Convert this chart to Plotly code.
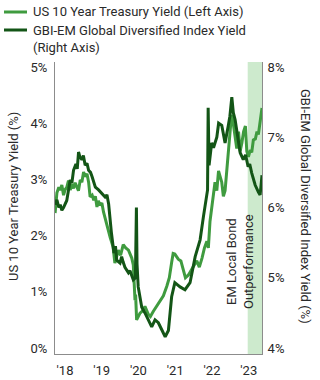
import plotly.graph_objects as go

# ---- data ----
ust_dates = ["2018-01-02","2018-01-20","2018-02-08","2018-02-22","2018-03-10","2018-03-27","2018-04-12",
             "2018-04-28","2018-05-15","2018-06-01","2018-06-18","2018-07-04","2018-07-20",
             "2018-08-06","2018-08-22","2018-09-09","2018-09-25","2018-10-12","2018-10-28","2018-11-15",
             "2018-12-01","2018-12-16","2019-01-05","2019-01-21","2019-02-06","2019-02-22",
             "2019-03-08","2019-03-25","2019-04-12","2019-04-28","2019-05-15","2019-06-01","2019-06-18",
             "2019-07-03","2019-08-01","2019-08-19","2019-09-05","2019-09-22","2019-10-15",
             "2019-11-10","2019-12-05","2020-01-01","2020-02-03","2020-02-18","2020-03-06","2020-03-12",
             "2020-03-22","2020-04-25","2020-05-20","2020-06-13","2020-07-16","2020-08-06","2020-09-03",
             "2020-10-24","2020-12-13","2021-01-16","2021-02-10","2021-03-05","2021-03-20",
             "2021-04-06","2021-05-10","2021-06-05","2021-06-30","2021-07-20","2021-08-19","2021-09-10",
             "2021-10-07","2021-11-10","2021-12-05","2022-01-01","2022-01-25",
             "2022-02-18","2022-03-05","2022-03-21","2022-04-21","2022-05-10","2022-05-28","2022-06-14",
             "2022-07-16","2022-08-01","2022-08-18","2022-09-10","2022-10-07","2022-10-21",
             "2022-11-03","2022-11-20","2022-12-12","2022-12-30","2023-01-15","2023-02-01","2023-02-18",
             "2023-03-08","2023-03-22","2023-04-07","2023-04-25","2023-05-10","2023-05-26","2023-06-15",
             "2023-07-01","2023-07-15","2023-08-01","2023-08-20"]
ust_yield = [2.40,2.76,2.86,2.81,2.90,2.72,2.82,
             2.86,2.98,2.81,2.92,2.84,2.94,
             2.86,2.80,2.99,2.95,3.13,3.05,3.10,
             2.95,2.69,2.72,2.63,2.70,2.51,
             2.62,2.54,2.58,2.42,2.30,2.15,2.05,
             1.97,1.80,1.51,1.62,1.74,1.65,
             1.84,1.78,1.74,1.60,1.48,0.85,0.95,
             0.50,0.62,0.66,0.74,0.60,0.56,0.65,
             0.80,0.93,1.10,1.25,1.52,1.68,
             1.67,1.58,1.55,1.40,1.25,1.30,1.38,
             1.45,1.55,1.44,1.60,1.78,
             1.90,1.78,2.25,2.76,2.95,2.80,3.15,
             2.95,2.70,2.80,3.30,3.83,4.15,
             4.05,3.78,3.55,3.85,3.50,3.65,3.85,
             3.95,3.50,3.40,3.52,3.48,3.70,3.72,
             3.85,3.80,4.05,4.27]

em_dates = ["2018-01-02","2018-01-20","2018-02-08","2018-02-22","2018-03-10","2018-03-27","2018-04-28",
            "2018-05-15","2018-06-01","2018-06-18","2018-07-04","2018-07-28","2018-08-10","2018-08-23",
            "2018-09-05","2018-09-25","2018-10-10","2018-10-28","2018-11-15","2018-12-01","2018-12-20",
            "2019-01-04","2019-01-20","2019-02-06","2019-03-10","2019-04-13","2019-05-14","2019-06-01",
            "2019-06-18","2019-07-15","2019-08-10","2019-08-25","2019-09-06","2019-10-09","2019-10-25",
            "2019-11-10","2019-11-27","2020-01-01","2020-01-16","2020-02-18","2020-03-10","2020-03-20",
            "2020-03-26","2020-04-07","2020-05-12","2020-06-13","2020-07-16","2020-08-19","2020-09-21",
            "2020-10-24","2020-11-27","2020-12-31","2021-02-01","2021-03-05","2021-04-06","2021-05-28",
            "2021-07-16","2021-09-04","2021-10-25","2021-12-13","2022-01-15","2022-02-12","2022-02-25",
            "2022-03-03","2022-03-12","2022-04-07","2022-04-25","2022-05-28","2022-06-15","2022-07-16",
            "2022-08-18","2022-09-17","2022-10-05","2022-10-24","2022-11-08","2022-11-26","2022-12-20",
            "2023-01-15","2023-02-15","2023-03-10","2023-04-04","2023-04-20","2023-05-10","2023-06-13",
            "2023-07-15","2023-08-01","2023-08-09","2023-08-20"]
em_yield = [6.04,6.11,6.00,6.04,5.96,6.00,6.10,
            6.22,6.39,6.35,6.53,6.62,6.55,6.79,
            6.72,6.68,6.74,6.60,6.63,6.53,6.50,
            6.44,6.36,6.29,6.25,6.20,6.15,6.18,
            6.05,5.65,5.35,5.45,5.25,5.21,5.30,
            5.22,5.15,5.07,5.10,4.97,5.00,6.00,
            5.20,4.87,4.58,4.50,4.40,4.30,4.40,
            4.36,4.26,4.16,4.25,4.73,4.93,4.87,
            4.83,4.93,5.30,5.54,5.87,6.11,6.25,
            7.42,6.60,6.92,6.85,7.00,7.20,7.17,
            6.92,7.15,7.30,7.57,7.35,7.25,7.00,
            6.78,6.68,6.75,6.58,6.62,6.49,6.32,
            6.22,6.18,6.29,6.46]

year_ticks = ["2018-01-01","2019-01-01","2020-01-01","2021-01-01","2022-01-01","2023-01-01"]
year_labels = ["'18","'19","'20","'21","'22","'23"]
left_ticks = [0, 1, 2, 3, 4, 5]
right_ticks = [4, 5, 6, 7, 8]
shade_start, shade_end = "2023-03-31", "2023-08-20"

names = ["US 10 Year Treasury Yield (Left Axis)",
         "GBI-EM Global Diversified Index Yield<br>(Right Axis)"]
light, dark = "#3f9b3f", "#135516"
FONT = "Roboto"
TXT = "#2a2a2a"
FS = 13

W, H = 320, 380
ML, MR, MT, MB = 55, 58, 62, 26
PW, PH = W - ML - MR, H - MT - MB

def px(x):
    return (x - ML) / PW

def py(y):
    return (H - MB - y) / PH

fig = go.Figure()
fig.add_trace(go.Scatter(x=ust_dates, y=ust_yield, mode="lines", name=names[0],
                         line=dict(color=light, width=3), yaxis="y"))
fig.add_trace(go.Scatter(x=em_dates, y=em_yield, mode="lines", name=names[1],
                         line=dict(color=dark, width=3), yaxis="y2"))

shapes = [
    dict(type="rect", xref="x", yref="paper", x0=shade_start, x1=shade_end, y0=0, y1=1,
         fillcolor="#cdeacd", line=dict(width=0), layer="below"),
    dict(type="line", xref="paper", yref="paper", x0=px(4), x1=px(27), y0=py(12), y1=py(12),
         line=dict(color=light, width=3)),
    dict(type="line", xref="paper", yref="paper", x0=px(4), x1=px(27), y0=py(30), y1=py(30),
         line=dict(color=dark, width=3)),
]

annotations = [
    dict(xref="paper", yref="paper", x=px(31), y=py(12), xanchor="left", yanchor="middle",
         text=names[0], showarrow=False, font=dict(family=FONT, size=FS, color=TXT)),
    dict(xref="paper", yref="paper", x=px(31), y=py(30), xanchor="left", yanchor="top",
         yshift=9, text=names[1], showarrow=False, align="left",
         font=dict(family=FONT, size=FS, color=TXT)),
    dict(xref="paper", yref="paper", x=px(13), y=py(197), xanchor="center", yanchor="middle",
         text="US 10 Year Treasury Yield (%)", textangle=-90, showarrow=False,
         font=dict(family=FONT, size=FS, color=TXT)),
    dict(xref="paper", yref="paper", x=px(306), y=py(206), xanchor="center", yanchor="middle",
         text="GBI-EM Global Diversified Index Yield (%)", textangle=90, showarrow=False,
         font=dict(family=FONT, size=FS, color=TXT)),
    dict(xref="paper", yref="paper", x=px(240), y=py(262), xanchor="center", yanchor="middle",
         text="EM Local Bond<br>Outperformance", textangle=-90, showarrow=False,
         font=dict(family=FONT, size=FS, color=TXT)),
]

axis_common = dict(ticks="", showgrid=False, zeroline=False, showline=True,
                   linecolor="#8c8c8c", linewidth=1, tickfont=dict(size=FS, color=TXT))

fig.update_layout(
    width=W, height=H, margin=dict(l=ML, r=MR, t=MT, b=MB, autoexpand=False),
    paper_bgcolor="white", plot_bgcolor="white", showlegend=False,
    font=dict(family=FONT, size=FS, color=TXT),
    shapes=shapes, annotations=annotations,
    xaxis=dict(type="date", range=["2018-01-01", shade_end], tickvals=year_ticks, ticktext=year_labels,
               ticklabelshift=10, ticklabelstandoff=4, **axis_common),
    yaxis=dict(range=[-0.107, 5.089], tickvals=left_ticks,
               ticktext=[f"{v}%" for v in left_ticks], ticklabelstandoff=4, **axis_common),
    yaxis2=dict(range=[3.915, 8.071], tickvals=right_ticks,
                ticktext=[f"{v}%" for v in right_ticks], overlaying="y", side="right",
                ticklabelstandoff=2, **axis_common),
)

fig.write_html("out.html")
